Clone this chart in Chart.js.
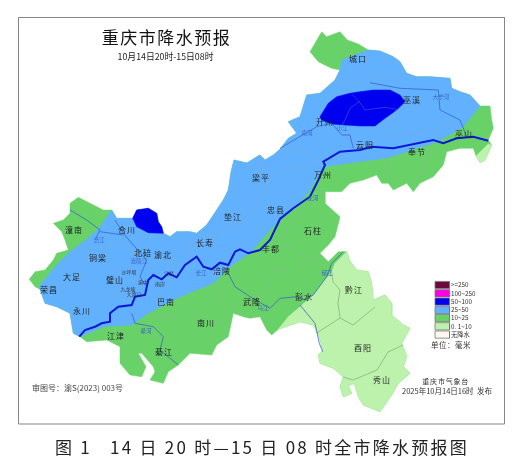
<!DOCTYPE html>
<html><head><meta charset="utf-8">
<style>html,body{margin:0;padding:0;background:#fff}canvas{display:block}</style>
<script src="https://cdn.jsdelivr.net/npm/chart.js@4/dist/chart.umd.min.js"></script>
</head><body><canvas id="c" width="520" height="464"></canvas>
<script>
const outline=[[321.7,31.7],[326.7,36.7],[340,31.7],[347.3,40],[358.3,44],[368.3,50],[380,51],[393.3,56.7],[400,61.7],[406.7,73.3],[416.7,76.7],[430,76.7],[450,78.3],[451.7,88.3],[460,91.7],[470,95],[480,106],[490,106],[491.7,120],[493.3,128.3],[488.3,140],[491.7,145],[485,160],[480,162.7],[476,156],[473.3,148.3],[460,148.3],[446.7,151.7],[443.3,165],[433.3,176.7],[420,183.3],[413.3,191.7],[406.7,183.3],[393.3,190],[388.3,183.3],[381.7,183.3],[376.7,175],[363.3,180],[350,183.3],[341.7,191.7],[325,191.7],[325,203.3],[340,216.7],[339.3,220],[335,236.7],[328.3,245],[320,253.3],[328.3,261.7],[338.3,251.7],[346.7,251.7],[349.3,260],[356.7,270],[368.3,271.7],[371.7,283.3],[373.3,300],[385,295],[391.7,303.3],[391.7,315],[403.3,325],[410,328.3],[401.7,343.3],[406.7,356.7],[403.3,366.7],[410,373.3],[398.3,383.3],[391.7,395],[380,411.7],[363.3,405],[358.3,396.7],[354.3,383.3],[348.3,385.7],[351.7,393.3],[343.3,396.7],[340,386.7],[343.3,376.7],[333.3,368.3],[320,363.3],[318.3,355],[322.7,350],[319.3,336.7],[315,328.3],[313.3,325],[300,321.7],[278.3,329.3],[271.7,335],[266.7,330],[260,316.7],[250,318.3],[243.3,316.7],[233.3,313.3],[228.3,336.7],[216.7,345],[211.7,355],[190,353.3],[178.3,365],[168.3,371.7],[163.3,383.3],[150,380],[155,371.7],[153.3,366.7],[141.7,353.3],[138.3,353.3],[146,366.7],[141.7,376.7],[130,375],[120,363.3],[120,346.7],[106.7,340],[86.7,341.7],[80,336.7],[73.3,333.3],[70,313.3],[56.7,306.7],[45,303.3],[40,289.3],[35,286.7],[29.3,279.3],[35,271.7],[45,270],[53.3,260],[56.7,253.3],[68.3,250],[65,240],[61.7,231.7],[53.3,223.3],[63.3,220],[70,213.3],[70,203.3],[78.3,197.3],[90,203.3],[103.3,210],[111.7,210],[116.7,218.3],[126.7,218.3],[132.7,218.3],[136.7,210],[148.3,208.3],[156.7,213.3],[158.3,221.7],[161.7,226.7],[163.3,233.3],[170,236.7],[176.7,231.7],[190,231.7],[196.7,233.3],[206.7,225],[216.7,210],[223.3,200],[228.3,190],[231,172],[234,160],[247,163],[258,156],[260,155],[265,160],[273.3,155],[280,149.3],[288.3,138.3],[296.7,133.3],[288.3,121.7],[300,116.7],[306.7,95],[320,93.3],[335,80],[340,70],[331.7,68.3],[328.3,66.7],[318.3,61.7],[310,51.7],[321.7,31.7]];
const blueBand=[[111.7,210],[116.7,218.3],[126.7,218.3],[132.7,218.3],[136.7,210],[148.3,208.3],[156.7,213.3],[158.3,221.7],[161.7,226.7],[163.3,233.3],[170,236.7],[176.7,231.7],[190,231.7],[196.7,233.3],[206.7,225],[216.7,210],[223.3,200],[228.3,190],[231,172],[234,160],[247,163],[258,156],[260,155],[265,160],[273.3,155],[280,149.3],[288.3,138.3],[296.7,133.3],[288.3,121.7],[300,116.7],[306.7,95],[320,93.3],[335,80],[340,70],[341.7,60],[368.3,50],[380,51],[393.3,56.7],[400,61.7],[406.7,73.3],[416.7,76.7],[430,76.7],[450,78.3],[451.7,88.3],[460,91.7],[470,95],[480,106],[463,127],[437,142],[387,158],[357,162],[323,167],[310,190],[295,208],[280,219],[270,230],[250,253.3],[230,266.7],[213.3,283.3],[180,296.7],[148.3,313.3],[131.7,325],[103.3,326.7],[80,336.7],[73.3,333.3],[70,313.3],[56.7,306.7],[45,303.3],[40,289.3],[40,285],[56.7,265],[70,251.7],[90,236.7],[100,226.7],[111.7,210]];
const darkBlueNorth=[[320,116.7],[328.3,103.3],[336.7,96.7],[350,93.3],[360,91.7],[373.3,90],[390,90],[400,95],[405,101.7],[396.7,110],[385,118.3],[375,126],[360,126],[345,125],[331.7,124],[321.7,120],[320,116.7]];
const darkBlueWest=[[132.7,218.3],[136.7,210],[148.3,208.3],[156.7,213.3],[158.3,221.7],[161.7,226.7],[163.3,233.3],[148.3,232.7],[136.7,226.7],[132.7,218.3]];
const lightSoutheast=[[346.7,251.7],[335,263.3],[331.7,271.7],[323.3,281.7],[313.3,295],[300,306.7],[288.3,316.7],[278.3,329.3],[300,321.7],[313.3,325],[315,328.3],[319.3,336.7],[322.7,350],[318.3,355],[320,363.3],[333.3,368.3],[343.3,376.7],[340,386.7],[343.3,396.7],[351.7,393.3],[348.3,385.7],[354.3,383.3],[358.3,396.7],[363.3,405],[380,411.7],[391.7,395],[398.3,383.3],[410,373.3],[403.3,366.7],[406.7,356.7],[401.7,343.3],[410,328.3],[403.3,325],[391.7,315],[391.7,303.3],[385,295],[373.3,300],[371.7,283.3],[368.3,271.7],[356.7,270],[349.3,260],[346.7,251.7]];
const lightNortheast=[[488.3,144],[491.7,145],[485,160],[480,162.7],[476,156],[488.3,144]];
const yangtze=[[79.3,336.7],[85,330],[95,326.7],[101.7,323.3],[110,321.7],[110,313.3],[118.3,306.7],[131.7,305],[135,296.7],[145,295],[148.3,280],[153.3,275],[161.7,279.3],[168.3,273.3],[176.7,277.3],[185,265],[196.7,256.7],[203.3,266.7],[211.7,269.3],[220,262.7],[228.3,265],[235,251.7],[240,249.3],[248.3,253.3],[260,250],[270,240],[280,219],[293.3,208.3],[310,196.7],[318.3,180],[325,165],[323.3,161.7],[340,151.7],[360,150],[371.7,146.7],[393.3,148.3],[433.3,140],[443.3,143.3],[456.7,138.3],[473.3,136.7],[488.3,140.7]];
const wuRiver=[[226.7,270],[235,286.7],[250,296.7],[270,308.3],[280,298.3],[296.7,296.7],[305,300],[313.3,295],[326.7,276.7],[331.7,263.3],[343.3,251.7]];
const wuBranch=[[300,305],[315,323.3],[319.3,343.3],[322.7,351.7]];
const jialingRiver=[[115,220],[123.3,233.3],[131.7,243.3],[146.7,260],[140,276.7],[145,285]];
const fuRiver=[[70,210],[86.7,220],[100,230],[95,240]];
const fuLink=[[100,231.7],[123.3,235]];
const qiRiver=[[131.7,313.3],[135,323.3],[153.3,326.7],[163.3,336.7],[160,350],[178.3,365]];
const pengxiRiver=[[280,148.3],[316.7,126.7],[331.7,123.3],[341.7,135],[350,135],[353.3,148.3]];
const daningRiver=[[370,82.7],[400,88.3],[438.3,90],[440,110],[460,120],[466.7,136.7]];
const countyLines=[
 [[351.7,94],[359.3,101.7],[350,108.3],[345,120],[338.3,131.7],[350,136.7],[355,148.3]],
 [[359.3,101.7],[365,110],[385,107.3],[396.7,109.3],[385,126.7],[388.3,135]],
 [[335,80],[356.7,83.3],[370,76.7],[400,76.7]],
 [[388.3,135],[433,130],[460,120]],
 [[260,190],[280,170],[323,163]],
 [[280,149],[305,150],[323,163]],
 [[173,237],[197,245],[223,230],[253,213]],
 [[253,213],[262,190],[260,155]],
 [[73,250],[100,247],[125,243],[135,253],[130,270],[140,287]],
 [[70,313],[92,300],[110,292],[125,300],[135,296]],
 [[92,300],[80,275],[90,250]],
 [[135,253],[165,262],[185,265]],
 [[185,265],[190,250],[197,245]],
 [[148,313],[165,320],[190,310],[215,325],[233,313]],
 [[213,283],[220,300],[243,316]],
 [[120,346],[135,325]],
 [[281,242],[307,257],[295,273],[273,270],[267,292],[250,297]],
 [[281,242],[290,225],[323,192]],
 [[307,257],[328,262]],
 [[433,140],[425,165],[413,191]],
 [[388,158],[385,183]]
];
const lightLines=[
 [[331.7,271.7],[333,282],[340,290],[338,303],[340,318],[316.7,333]],
 [[340,318],[353,325],[375,307]],
 [[403,345],[388,352],[377,370],[353,380],[343,377]]
];
const frameBox=[[18.5,17.5],[504.5,17.5],[504.5,424],[18.5,424],[18.5,17.5]];
const legendLabels=['>=250','100~250','50~100','25~50','10~25','0. 1~10','无降水'];
const legendColors=['#6b0a3c','#ff00e6','#0000f0','#62b1ff','#68d268','#bdf2ac','#fdf8ee'];
const legendRowY=[285,293.3,301.6,310,318,326.3,334.6];
const cityNames=['城口','巫溪','开州','云阳','巫山','奉节','万州','梁平','忠县','石柱','丰都','黔江','彭水','酉阳','秀山','武隆','南川','綦江','江津','巴南','涪陵','长寿','垫江','渝北','北碚','合川','潼南','铜梁','大足','璧山','荣昌','永川'];
const cityX=[358,412,325,365,464,417,323,261,276,313,271,354,304,363,382,252,206,164,116,166,222,205,233,163,143,127,74,98,72,115,49,82];
const cityY=[59,100,122,145,134,152,175,178,210,231,249,290,297,348,380,302,323,352,336,302,271,243,217,255,253,230,230,258,277,280,290,311];
const smallNames=['沙坪坝','九龙坡','大渡口','南岸','江北','渝中'];
const smallX=[129,128,134,160,169,143];
const smallY=[272,289,294,284,273,282];
const riverNames=['嘉陵江','涪江','长江','綦河','乌江','郁江','龙河','大宁河','南河','小江'];
const riverX=[139,99,201,146,263,327,313,441,307,342];
const riverY=[261,240,273,331,308,273,198,97,133,128];

const poly=(d,fill)=>({data:d,showLine:true,fill:'shape',backgroundColor:fill,borderColor:fill,borderWidth:0.5,pointRadius:0,tension:0});
const line=(d,col,w)=>({data:d,showLine:true,fill:false,borderColor:col,borderWidth:w,pointRadius:0,tension:0});
const GREEN=legendColors[4],LIGHT=legendColors[5],BLUE=legendColors[3],DARK=legendColors[2];
const layers=[
 poly(outline,GREEN),poly(blueBand,BLUE),poly(lightSoutheast,LIGHT),poly(lightNortheast,LIGHT),
 poly(darkBlueNorth,DARK),poly(darkBlueWest,DARK),
 ...countyLines.map(l=>line(l,'rgba(150,165,175,0.45)',0.7)),
 ...lightLines.map(l=>line(l,'rgba(120,155,110,0.85)',0.7)),
 ...[wuRiver,wuBranch,jialingRiver,fuRiver,fuLink,qiRiver,pengxiRiver,daningRiver].map(l=>line(l,'#3a63c8',0.8)),
 line(yangtze,'#0a18d6',2),
 ...legendRowY.map((y,i)=>{const a=435,b=449.5,h=3.6;
   return Object.assign(poly([[a,y-h],[b,y-h],[b,y+h],[a,y+h],[a,y-h]],legendColors[i]),{borderColor:'#777',borderWidth:0.8});}),
 line(frameBox,'#858585',1)
];
layers.forEach((d,i)=>{d.order=layers.length-i;d.clip=false;});

const FONT='"Noto Sans CJK SC","Noto Sans",sans-serif';
const textPlugin={id:'mapText',afterDraw(ch){
  const c=ch.ctx,X=ch.scales.x,Y=ch.scales.y;
  const put=(s,x,y,size,col,align,sp,weight)=>{c.font=(weight||400)+' '+size+'px '+FONT;c.fillStyle=col;c.textAlign=align||'center';c.textBaseline='middle';c.letterSpacing=(sp||0)+'px';c.fillText(s,X.getPixelForValue(x),Y.getPixelForValue(y));};
  cityNames.forEach((s,i)=>put(s,cityX[i],cityY[i],8,'#222','center',1));
  smallNames.forEach((s,i)=>put(s,smallX[i],smallY[i],5,'#333'));
  riverNames.forEach((s,i)=>put(s,riverX[i],riverY[i],5.5,'#3a63c8'));
  put('重庆市降水预报',166.5,38,17,'#111','center',1.5);
  put('10月14日20时-15日08时',165.5,57,8.8,'#222');
  put('审图号：渝S(2023) 003号',32,388,8,'#444','left');
  put('重庆市气象台',445.7,381.7,7,'#333','center',0.8);
  put('2025年10月14日16时  发布',402,390.7,7.5,'#333','left');
  put('单位：毫米',451,345,7.5,'#333','center',0.5);
  legendLabels.forEach((s,i)=>put(s,451,legendRowY[i],6.3,'#333','left'));
  put('图 1   14 日 20 时—15 日 08 时全市降水预报图',262,448,17,'#222','center',2.25);
  c.letterSpacing='0px';
}};

new Chart(document.getElementById('c'),{type:'scatter',data:{datasets:layers},plugins:[textPlugin],options:{
  responsive:false,animation:false,devicePixelRatio:1,layout:{padding:0},
  plugins:{legend:{display:false},tooltip:{enabled:false},title:{display:false}},
  scales:{x:{type:'linear',min:0,max:520,display:false},y:{type:'linear',min:0,max:464,reverse:true,display:false}}
}});
</script></body></html>
